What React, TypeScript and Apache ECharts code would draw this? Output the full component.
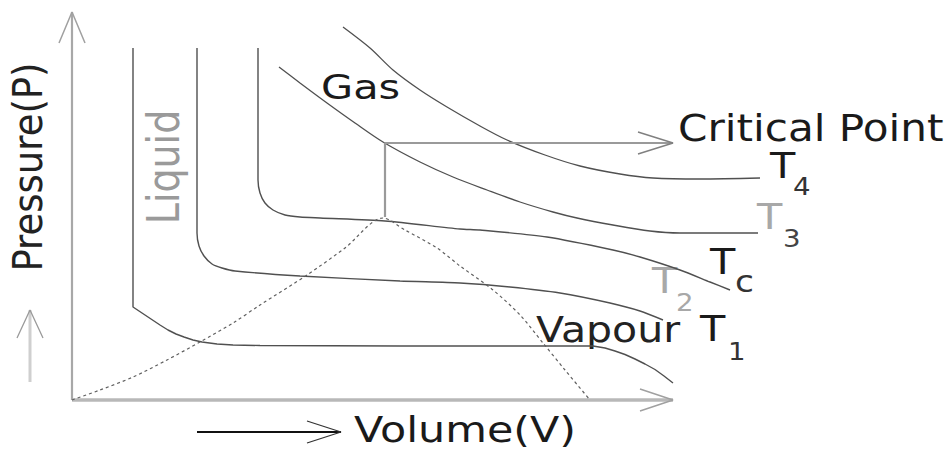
import React, { useEffect, useRef } from "react";
import * as echarts from "echarts";

type Pt = [number, number];

// Plot units: V grows to the right from the origin, P grows upwards.
const isothermT1: Pt[] = [
  [61, 352], [61, 93], [70, 87], [79, 81], [88, 75], [96, 70], [104, 66],
  [112, 63], [121, 60], [130, 58], [145, 56], [161, 55], [188, 54.5],
  [328, 54], [521, 54], [533, 52], [543, 49], [553, 45.5], [563, 41],
  [573, 36], [583, 30.5], [592, 24], [601, 17],
];
const isothermT2: Pt[] = [
  [125, 352], [125, 167], [127, 154], [132, 144], [140, 136], [150, 132],
  [163, 129], [228, 124], [328, 119], [388, 117], [438, 113], [488, 107],
  [538, 97], [568, 89], [591, 80],
];
const isothermTc: Pt[] = [
  [186, 352], [186, 220], [188, 207], [193, 197], [201, 190], [213, 185],
  [228, 183], [248, 182], [313, 179], [388, 171], [408, 170], [475, 163],
  [541, 150], [568, 143], [608, 130], [638, 118], [658, 110],
];
const isothermT3: Pt[] = [
  [207, 333], [228, 317], [255, 297], [283, 277], [311, 258], [348, 238],
  [381, 223], [415, 210], [448, 198], [481, 188], [505, 182], [541, 175],
  [578, 169], [608, 167], [686, 167],
];
const isothermT4: Pt[] = [
  [271, 373], [298, 352], [321, 330], [348, 310], [375, 293], [408, 274],
  [435, 260], [473, 245], [508, 234], [548, 226], [581, 222], [628, 221],
  [688, 222],
];
const coexistenceDome: Pt[] = [
  [0, 0], [28, 10], [61, 23], [95, 40], [128, 58], [161, 77], [188, 95],
  [235, 125], [273, 152], [311, 182], [333, 170], [365, 152], [388, 134],
  [421, 110], [448, 85], [471, 57], [493, 30], [518, 0],
];

const criticalPoint: Pt = [313, 257];
const criticalFoot: Pt = [313, 183];
const criticalArrowTip: Pt = [601, 257];
const volumeAxisTip: Pt = [601, 0];
const pressureAxisTip: Pt = [0, 388];
const volumeHint: Pt[] = [[125, -32], [269, -32]];
const pressureHint: Pt[] = [[-42, 18], [-42, 90]];

// open chevron at the end of a segment
function chevron(from: Pt, tip: Pt, len: number, half: number): Pt[] {
  const dx = tip[0] - from[0];
  const dy = tip[1] - from[1];
  const d = Math.hypot(dx, dy);
  const ux = dx / d;
  const uy = dy / d;
  const bx = tip[0] - ux * len;
  const by = tip[1] - uy * len;
  return [
    [bx - uy * half, by + ux * half],
    tip,
    [bx + uy * half, by - ux * half],
  ];
}

const FONT = '"DejaVu Sans", Verdana, sans-serif';

function label(
  text: string,
  x: number,
  y: number,
  size: number,
  fill: string,
  extra: Record<string, unknown> = {}
) {
  const align = (extra.align as string) || "left";
  const { align: _a, ...rest } = extra;
  return {
    type: "text",
    x,
    y,
    silent: true,
    ...rest,
    style: {
      text,
      fill,
      font: `${size}px ${FONT}`,
      fontSize: size,
      fontFamily: FONT,
      align,
      textAlign: align,
      verticalAlign: "middle",
      textVerticalAlign: "middle",
    },
  };
}

function line(data: Pt[], color: string, width: number, extra: Record<string, unknown> = {}) {
  return {
    type: "line",
    data,
    symbol: "none",
    showSymbol: false,
    clip: false,
    silent: true,
    animation: false,
    lineStyle: { color, width, ...(extra.lineStyle as object) },
    smooth: (extra.smooth as number) ?? 0,
    z: (extra.z as number) ?? 2,
  };
}

export default function App() {
  const ref = useRef<HTMLDivElement>(null);

  useEffect(() => {
    document.body.style.margin = "0";
    if (!ref.current) return;
    const chart = echarts.init(ref.current, undefined, { renderer: "svg" });

    const isoColor = "#505050";
    const axisColor = "#b8b8b8";

    chart.setOption({
      animation: false,
      backgroundColor: "#ffffff",
      grid: { left: 0, right: 0, top: 0, bottom: 50 },
      xAxis: { type: "value", min: -72, max: 877, show: false },
      yAxis: { type: "value", min: 0, max: 400, show: false },
      series: [
        // axes
        line([[0, 0], volumeAxisTip], axisColor, 3.5),
        line(chevron([0, 0], volumeAxisTip, 33, 11), "#a0a0a0", 1.5),
        line([[0, 0], pressureAxisTip], "#a8a8a8", 2.2),
        line(chevron([0, 0], pressureAxisTip, 31, 13), "#a0a0a0", 1.5),
        // isotherms
        line(isothermT1, isoColor, 1.4),
        line(isothermT2, isoColor, 1.4, { smooth: 0.25 }),
        line(isothermTc, isoColor, 1.4, { smooth: 0.25 }),
        line(isothermT3, isoColor, 1.3, { smooth: 0.3 }),
        line(isothermT4, isoColor, 1.3, { smooth: 0.3 }),
        // liquid–vapour boundary
        line(coexistenceDome, "#606060", 1.2, {
          smooth: 0.3,
          lineStyle: { type: [3, 3] },
        }),
        // critical point marker
        line([criticalFoot, criticalPoint, criticalArrowTip], "#9a9a9a", 2.2),
        line(chevron(criticalPoint, criticalArrowTip, 35, 11), "#808080", 1.5),
        // direction hints beside the axes
        line(volumeHint, "#111111", 2),
        line(chevron(volumeHint[0], volumeHint[1], 34, 11), "#333333", 1.3),
        line(pressureHint, "#cfcfcf", 3),
        line(chevron(pressureHint[0], pressureHint[1], 28, 13), "#9a9a9a", 1.3),
      ],
      graphic: [
        label("Pressure(P)", 28, 167, 37, "#222222", {
          align: "center",
          rotation: Math.PI / 2,
          scaleY: 1.12,
        }),
        label("Liquid", 164, 167, 38, "#9a9a9a", {
          align: "center",
          rotation: Math.PI / 2,
          scaleY: 1.15,
        }),
        label("Gas", 321, 87.5, 34, "#1a1a1a", { scaleX: 1.22 }),
        label("Critical Point", 678, 127.5, 38, "#1a1a1a", { scaleX: 1.11 }),
        label("Volume(V)", 354, 429, 36, "#1a1a1a", { scaleX: 1.19 }),
        label("Vapour", 536, 329, 36, "#222222", { scaleX: 1.14 }),
        label("T", 770, 165.5, 36, "#1a1a1a", { scaleX: 1.15 }),
        label("4", 793, 186.5, 24, "#333333", { scaleX: 1.15 }),
        label("T", 757, 216.5, 36, "#a8a8a8", { scaleX: 1.15 }),
        label("3", 783, 239, 24, "#444444", { scaleX: 1.15 }),
        label("T", 710, 261.5, 36, "#1a1a1a", { scaleX: 1.15 }),
        label("c", 735, 282, 30, "#333333", { scaleX: 1.15 }),
        label("T", 652, 280.5, 36, "#a8a8a8", { scaleX: 1.15 }),
        label("2", 676, 303, 24, "#a8a8a8", { scaleX: 1.15 }),
        label("T", 700, 328.5, 36, "#1a1a1a", { scaleX: 1.15 }),
        label("1", 728, 351.5, 24, "#333333", { scaleX: 1.15 }),
      ],
    });

    return () => chart.dispose();
  }, []);

  return <div ref={ref} style={{ width: 949, height: 450 }} />;
}
